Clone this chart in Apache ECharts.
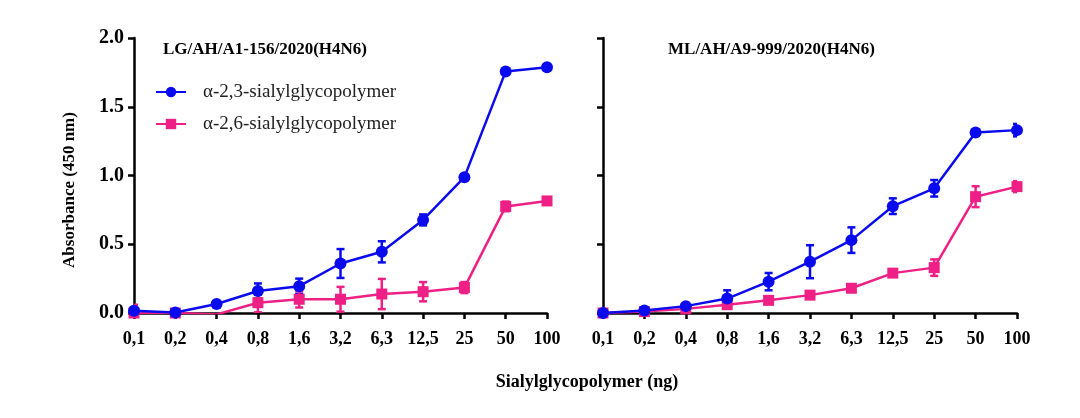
<!DOCTYPE html>
<html><head><meta charset="utf-8">
<script src="https://cdn.jsdelivr.net/npm/echarts@6/dist/echarts.min.js"></script>
<style>html,body{margin:0;padding:0;background:#fff}#c{width:1080px;height:418px}</style>
</head><body><div id="c"></div>
<script>
const categories = ['0,1','0,2','0,4','0,8','1,6','3,2','6,3','12,5','25','50','100'];
const yTicks = [0, 0.5, 1.0, 1.5, 2.0];
const panelTitles = ['LG/AH/A1-156/2020(H4N6)', 'ML/AH/A9-999/2020(H4N6)'];
const seriesNames = ['α-2,3-sialylglycopolymer', 'α-2,6-sialylglycopolymer'];
// left panel
const leftA23 = [0.017, 0.004, 0.065, 0.16, 0.195, 0.36, 0.445, 0.677, 0.988, 1.757, 1.788];
const leftA23Err = [0.01, 0.01, 0.01, 0.055, 0.055, 0.105, 0.077, 0.04, 0.02, 0.015, 0.015];
const leftA26 = [0.0, 0.0, -0.01, 0.075, 0.1, 0.1, 0.138, 0.155, 0.185, 0.775, 0.815];
const leftA26Err = [0.06, 0.0, 0.0, 0.07, 0.06, 0.09, 0.11, 0.07, 0.04, 0.035, 0.015];
// right panel
const rightA23 = [0.0, 0.018, 0.05, 0.105, 0.228, 0.373, 0.53, 0.777, 0.907, 1.312, 1.33];
const rightA23Err = [0.0, 0.01, 0.01, 0.06, 0.063, 0.12, 0.093, 0.057, 0.06, 0.01, 0.045];
const rightA26 = [0.0, 0.01, 0.03, 0.06, 0.092, 0.13, 0.18, 0.29, 0.33, 0.846, 0.919];
const rightA26Err = [0.0, 0.0, 0.01, 0.01, 0.01, 0.01, 0.01, 0.015, 0.06, 0.076, 0.04];

const BLUE = '#0a0aee';
const PINK = '#ee1f85';
const FONT = '"Liberation Serif","Times New Roman",serif';

function errData(vals, errs) {
  return vals.map((v, i) => [i, v - errs[i], v + errs[i]]);
}
function errSeries(vals, errs, color, gi) {
  return {
    type: 'custom', xAxisIndex: gi, yAxisIndex: gi, silent: true, z: 3,
    data: errData(vals, errs),
    clip: true,
    renderItem: function (params, api) {
      const lo = api.coord([api.value(0), api.value(1)]);
      const hi = api.coord([api.value(0), api.value(2)]);
      const w = 4;
      const st = { stroke: color, lineWidth: 2.5 };
      return { type: 'group', children: [
        { type: 'line', shape: { x1: lo[0], y1: lo[1], x2: hi[0], y2: hi[1] }, style: st },
        { type: 'line', shape: { x1: lo[0]-w, y1: lo[1], x2: lo[0]+w, y2: lo[1] }, style: st },
        { type: 'line', shape: { x1: hi[0]-w, y1: hi[1], x2: hi[0]+w, y2: hi[1] }, style: st }
      ]};
    }
  };
}
function lineSeries(name, vals, color, symbol, size, gi) {
  return {
    name: name, type: 'line', xAxisIndex: gi, yAxisIndex: gi, data: vals,
    symbol: symbol, symbolSize: size, showSymbol: true,
    lineStyle: { color: color, width: 2.5 }, itemStyle: { color: color },
    z: symbol === 'circle' ? 5 : 4, animation: false, clip: true
  };
}
const axisLine = { show: true, lineStyle: { color: '#000', width: 2.5 } };
const axisTick = { show: true, inside: false, length: 6, lineStyle: { color: '#000', width: 2.5 } };
function xAxis(gi) {
  return { type: 'category', gridIndex: gi, data: categories, boundaryGap: false,
    axisLine: axisLine, axisTick: Object.assign({ alignWithLabel: true }, axisTick),
    axisLabel: { color: '#000', fontFamily: FONT, fontWeight: 'bold', fontSize: 18, margin: 17, interval: 0 },
    splitLine: { show: false } };
}
function yAxis(gi, showLabel) {
  return { type: 'value', gridIndex: gi, min: 0, max: 2, interval: 0.5,
    axisLine: axisLine, axisTick: axisTick,
    axisLabel: { show: showLabel, color: '#000', fontFamily: FONT, fontWeight: 'bold', fontSize: 20, margin: 10,
      formatter: v => v.toFixed(1) },
    splitLine: { show: false } };
}
const chart = echarts.init(document.getElementById('c'), null, { renderer: 'canvas' });
chart.setOption({
  animation: false,
  backgroundColor: '#fff',
  grid: [
    { left: 134, top: 38, width: 413, height: 275 },
    { left: 603, top: 38, width: 414, height: 275 }
  ],
  xAxis: [xAxis(0), xAxis(1)],
  yAxis: [yAxis(0, true), yAxis(1, false)],
  legend: {
    data: seriesNames, orient: 'vertical', left: 150, top: 77, itemGap: 12,
    itemWidth: 30, itemHeight: 13,
    textStyle: { fontFamily: FONT, fontSize: 19, lineHeight: 20, color: '#222', padding: [0, 0, 0, 12] }
  },
  title: [
    { text: panelTitles[0], left: 158, top: 36, textStyle: { fontFamily: FONT, fontWeight: 'bold', fontSize: 17, color: '#000' } },
    { text: panelTitles[1], left: 663, top: 36, textStyle: { fontFamily: FONT, fontWeight: 'bold', fontSize: 17, color: '#000' } }
  ],
  graphic: [
    { type: 'text', x: 587, y: 382, style: { text: 'Sialylglycopolymer (ng)', font: 'bold 18px ' + FONT, fill: '#000', align: 'center', verticalAlign: 'middle' } },
    { type: 'text', x: 70, y: 190, rotation: Math.PI / 2, style: { text: 'Absorbance (450 nm)', font: 'bold 17px ' + FONT, fill: '#000', align: 'center', verticalAlign: 'middle' } }
  ],
  series: [
    errSeries(leftA23, leftA23Err, BLUE, 0),
    errSeries(leftA26, leftA26Err, PINK, 0),
    lineSeries(seriesNames[0], leftA23, BLUE, 'circle', 12, 0),
    lineSeries(seriesNames[1], leftA26, PINK, 'rect', 11, 0),
    errSeries(rightA23, rightA23Err, BLUE, 1),
    errSeries(rightA26, rightA26Err, PINK, 1),
    lineSeries(seriesNames[0], rightA23, BLUE, 'circle', 12, 1),
    lineSeries(seriesNames[1], rightA26, PINK, 'rect', 11, 1)
  ]
});
</script></body></html>
